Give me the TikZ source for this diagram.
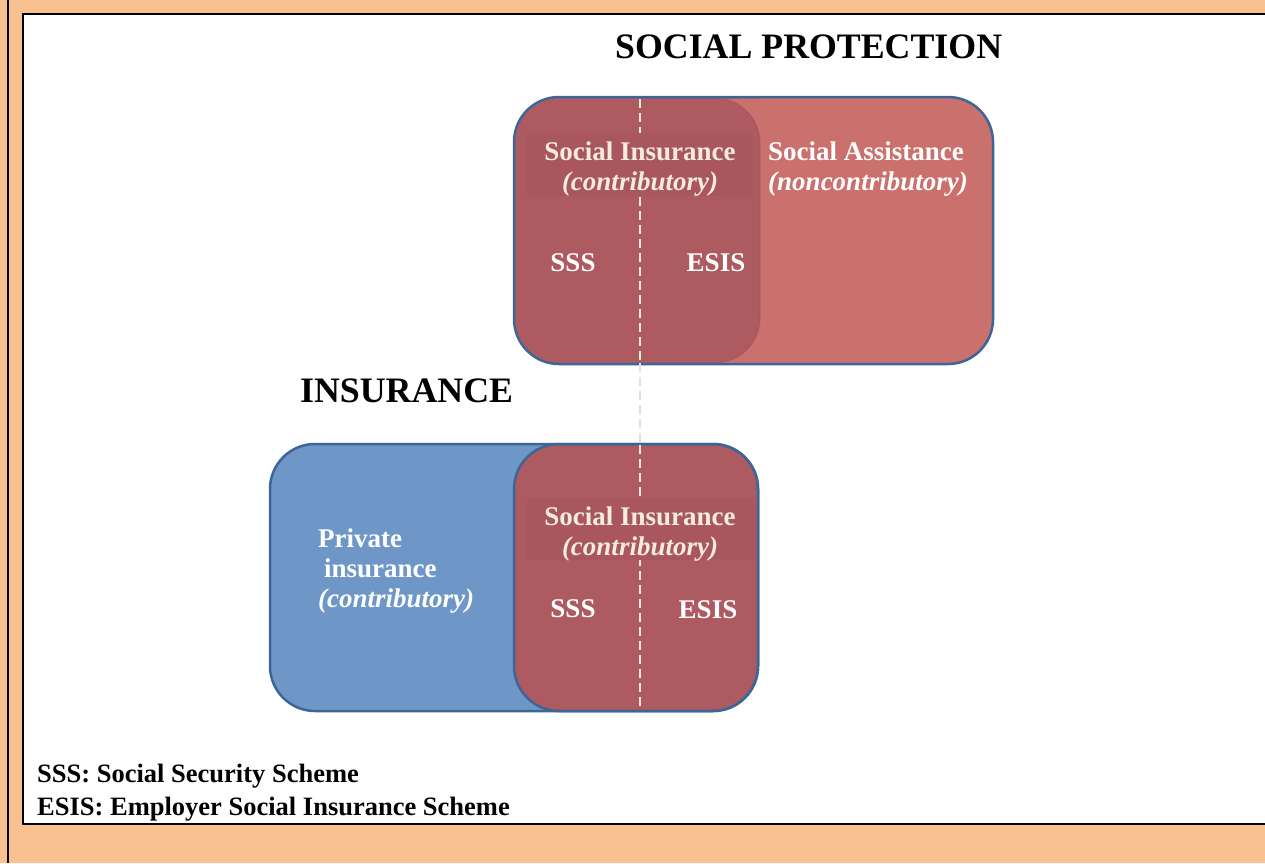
\documentclass[tikz,border=0pt]{standalone}
\usepackage{fontspec}
\setmainfont{Liberation Serif}
\definecolor{pageorange}{HTML}{F9C190}
\definecolor{assistred}{HTML}{CA716E}
\definecolor{insured}{HTML}{AD5A61}
\definecolor{bandred}{HTML}{AA565E}
\definecolor{privblue}{HTML}{6E97C8}
\definecolor{boxblue}{HTML}{3E6598}
\definecolor{creamtxt}{HTML}{F1ECDF}

\tikzset{
  boxfont/.style={font=\bfseries\fontsize{27}{32}\selectfont},
  headfont/.style={font=\bfseries\fontsize{35.8}{40}\selectfont},
  notefont/.style={font=\bfseries\fontsize{26.5}{30}\selectfont},
  boxtxt/.style={boxfont,text=white,anchor=base,inner sep=0pt},
  siltxt/.style={boxfont,text=creamtxt,anchor=base,inner sep=0pt},
  splitline/.style={line width=2pt,dash pattern=on 9pt off 5pt}
}

\begin{document}
\begin{tikzpicture}[x=1pt,y=-1pt]
\useasboundingbox (0,0) rectangle (1265,863);
% page
\fill[pageorange] (0,0) rectangle (1265,863);
\draw[line width=2.5pt] (8,0) -- (8,863);
\fill[white] (23,14) rectangle (1265,824);
\draw[line width=2.5pt] (1265,14) -- (23,14) -- (23,824) -- (1265,824);

% headings
\node[headfont,anchor=base west,inner sep=0pt] (sphead) at (615,58) {SOCIAL PROTECTION};
\node[headfont,anchor=base west,inner sep=0pt] (inshead) at (300,402) {INSURANCE};

% social protection box
\fill[assistred,rounded corners=45pt] (514,97) rectangle (993,364);
\fill[insured,rounded corners=45pt] (515,98) rectangle (760,363);
\draw[insured!90!black,line width=1pt,opacity=.5,rounded corners=45pt] (640,98) -- (715,98) -- (760,98) -- (760,363) -- (640,363);
\draw[boxblue,line width=2.5pt,rounded corners=45pt] (514,97) rectangle (993,364);

% insurance box
\fill[privblue,rounded corners=45pt] (270,444) rectangle (758,711);
\filldraw[fill=insured,draw=boxblue,line width=2.5pt,rounded corners=45pt] (514,444) rectangle (758,711);
\draw[boxblue,line width=2.5pt,rounded corners=45pt] (270,444) rectangle (758,711);

% split line
\coordinate (ctop) at (640,99);
\coordinate (cmid1) at (640,363);
\coordinate (cmid2) at (640,445);
\coordinate (cbot) at (640,710);
\draw[splitline,creamtxt] (ctop) -- (cmid1);
\draw[splitline,black!12] (cmid1) -- (cmid2);
\draw[splitline,creamtxt] (cmid2) -- (cbot);

% title bands over the line
\fill[bandred] (527,133) rectangle (753,196);
\fill[bandred] (527,498) rectangle (755,560);

% texts, top box
\node[siltxt] (si1) at (640,160) {Social Insurance};
\node[siltxt] (si1c) at (640,190) {\itshape (contributory)};
\node[boxtxt] (sa) at (866,160) {Social Assistance};
\node[boxtxt] (sac) at (868,190) {\itshape (noncontributory)};
\node[boxtxt] (sss1) at (573,271) {SSS};
\node[boxtxt] (esis1) at (716,271) {ESIS};

% texts, bottom box
\node[boxtxt,anchor=base west] (pv) at (318,547) {Private};
\node[boxtxt,anchor=base west] (pvi) at (324,577) {insurance};
\node[boxtxt,anchor=base west] (pvc) at (318,607) {\itshape (contributory)};
\node[siltxt] (si2) at (640,525) {Social Insurance};
\node[siltxt] (si2c) at (640,555) {\itshape (contributory)};
\node[boxtxt] (sss2) at (573,617) {SSS};
\node[boxtxt] (esis2) at (708,618) {ESIS};

% legend
\node[notefont,anchor=base west,inner sep=0pt] (lg1) at (37,782) {SSS: Social Security Scheme};
\node[notefont,anchor=base west,inner sep=0pt] (lg2) at (37,815) {ESIS: Employer Social Insurance Scheme};
\end{tikzpicture}
\end{document}
